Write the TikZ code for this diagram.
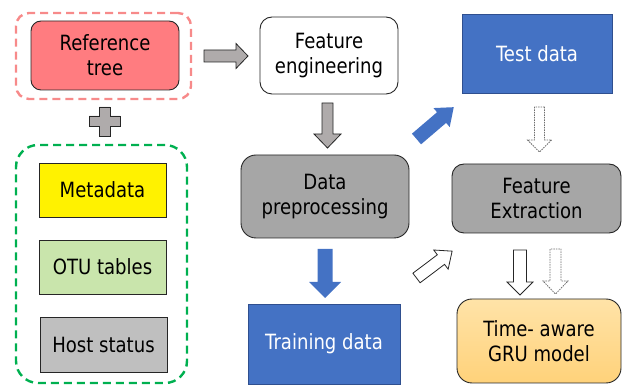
\documentclass[tikz,border=0pt]{standalone}
\usepackage{fontspec}
\setmainfont{DejaVu Sans}[FakeStretch=0.86]
\definecolor{reffill}{HTML}{FF7C80}
\definecolor{pinkdash}{HTML}{F78A8A}
\definecolor{greendash}{HTML}{00B050}
\definecolor{otufill}{HTML}{C9E5AC}
\definecolor{hostfill}{HTML}{BFBFBF}
\definecolor{grayfill}{HTML}{A6A6A6}
\definecolor{arrowgray}{HTML}{AFABAB}
\definecolor{bluefill}{HTML}{4472C4}
\definecolor{blueline}{HTML}{2F4F8F}
\definecolor{edge}{HTML}{262626}
\definecolor{dotedge}{HTML}{6E6E6E}
\definecolor{grutop}{HTML}{FFE3A8}
\definecolor{grubot}{HTML}{FFD27A}
\newcommand{\blockarrow}[7][]{%
  \draw[#1,shift={#2},rotate=#3] (0,-#5)--({#4-#7},-#5)--({#4-#7},-#6)--(#4,0)
    --({#4-#7},#6)--({#4-#7},#5)--(0,#5)--cycle;}
\tikzset{
  txt/.style={font=\fontsize{21}{25}\selectfont, align=center, inner sep=0pt},
  box/.style={txt, draw=edge, line width=0.9pt},
  dashbox/.style={line width=2.4pt, dash pattern=on 8pt off 5pt, rounded corners=14pt},
  grayarrow/.style={fill=arrowgray, draw=edge, line width=0.8pt},
  bluearrow/.style={fill=bluefill, draw=none},
  whitearrow/.style={fill=white, draw=edge, line width=0.8pt},
  dotarrow/.style={fill=white, draw=dotedge, line width=0.8pt, dash pattern=on 1.5pt off 1pt},
}
\begin{document}
\begin{tikzpicture}[x=1pt,y=-1pt]
\useasboundingbox (0,0) rectangle (622,387);
% dashed groups
\node[dashbox, draw=pinkdash, minimum width=175pt, minimum height=86pt, rounded corners=13pt] (pinkgroup) at (103.5,56) {};
\node[dashbox, draw=greendash, minimum width=171pt, minimum height=238pt, rounded corners=22pt] (greengroup) at (101.5,264) {};
% left column
\node[box, fill=reffill, minimum width=148pt, minimum height=69pt, rounded corners=10pt] (ref) at (105,55.5) {Reference\\tree};
\node[box, fill=yellow, minimum width=127pt, minimum height=54pt] (meta) at (102.5,190) {Metadata};
\node[box, fill=otufill, minimum width=127pt, minimum height=54pt] (otu) at (102.5,267) {OTU tables};
\node[box, fill=hostfill, minimum width=127pt, minimum height=55pt] (host) at (103.5,344.5) {Host status};
% plus sign
\draw[grayarrow] (99,107) -- (110,107) -- (110,116) -- (120,116) -- (120,126) -- (110,126) -- (110,136) -- (99,136) -- (99,126) -- (89,126) -- (89,116) -- (99,116) -- cycle;
% middle column
\node[box, fill=white, minimum width=138pt, minimum height=77pt, rounded corners=12pt] (fe) at (329,55.5) {Feature\\engineering};
\node[box, fill=grayfill, minimum width=168pt, minimum height=83pt, rounded corners=15pt] (dp) at (325,196.5) {Data\\preprocessing};
\node[box, fill=bluefill, draw=blueline, text=white, minimum width=152pt, minimum height=80pt] (train) at (324,344) {Training data};
% right column
\node[box, fill=bluefill, draw=blueline, text=white, minimum width=150pt, minimum height=79pt] (test) at (537,53.5) {Test data};
\node[box, fill=grayfill, minimum width=169pt, minimum height=69pt, rounded corners=12pt] (fx) at (536.5,198.5) {Feature\\Extraction};
\node[box, top color=grutop, bottom color=grubot, minimum width=164pt, minimum height=84pt, rounded corners=15pt] (gru) at (539,341) {Time- aware\\GRU model};
% block arrows
\blockarrow[grayarrow]{(204,56)}{0}{44}{6}{12.5}{12}
\blockarrow[grayarrow]{(327.5,103)}{-90}{45}{5.5}{13.5}{14}
\blockarrow[bluearrow]{(416.5,139)}{40.5}{49}{7}{12.5}{16}
\blockarrow[dotarrow]{(539.5,107)}{-90}{45}{5}{12}{12}
\blockarrow[bluearrow]{(325,249)}{-90}{49}{7.5}{16}{16}
\blockarrow[whitearrow]{(416.5,278)}{37}{44.6}{6}{12}{14}
\blockarrow[whitearrow]{(520,250)}{-90}{45}{6.5}{13}{13}
\blockarrow[dotarrow]{(555.5,249)}{-90}{45}{5.5}{12.5}{13}
\end{tikzpicture}
\end{document}
